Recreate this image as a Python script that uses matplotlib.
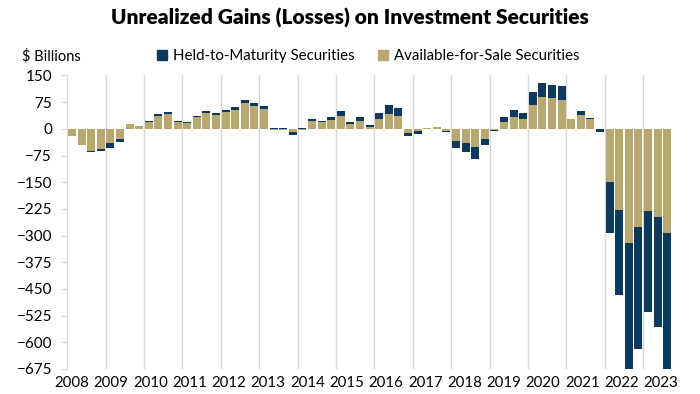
import matplotlib.pyplot as plt
import numpy as np
from matplotlib.patches import Patch

plt.rcParams['font.family'] = ['Lato', 'DejaVu Sans']

years = list(range(2008, 2024))

# $ billions, quarterly 2008 Q1 .. 2023 Q3
afs = [-19, -45, -62, -56,
       -40, -29, 13, 7,
       18, 36, 42, 18,
       17, 32, 44, 39,
       46, 53, 72, 64,
       56, -3, -3, -8,
       -3, 23, 18, 25,
       35, 14, 21, 6,
       27, 42, 36, -12,
       -7, 2, 5, -5,
       -34, -40, -51, -29,
       -2, 20, 32, 27,
       68, 90, 86, 82,
       28, 39, 29, -1,
       -150, -227, -320, -277,
       -232, -248, -292]

htm = [0, 0, -3, -7,
       -14, -8, 0, 2,
       4, 5, 6, 3,
       3, 5, 5, 6,
       6, 8, 8, 8,
       8, 3, 3, -10,
       2, 5, 4, 9,
       14, 5, 11, 4,
       17, 24, 22, -8,
       -7, 0, 1, -5,
       -21, -25, -33, -17,
       -3, 14, 20, 17,
       35, 38, 37, 37,
       1, 11, 2, -9,
       -142, -240, -370, -343,
       -284, -310, -392]

navy = '#0b3a5e'
tan = '#b8a76e'
grid_c = '#d9d9d9'

afs = np.array(afs)
htm = np.array(htm)
x = np.arange(len(afs)) + 0.5
htm_bottom = np.where(np.sign(htm) == np.sign(afs), afs, 0)

fig = plt.figure(figsize=(7, 3.94), dpi=100)
ax = fig.add_axes([0.096, 0.0635, 0.864, 0.745])

ax.bar(x, afs, width=0.83, color=tan, zorder=2)
ax.bar(x, htm, width=0.83, bottom=htm_bottom, color=navy, zorder=2)

ax.set_xlim(0, len(afs))
ax.set_ylim(-675, 150)
ax.set_yticks(np.arange(-675, 151, 75))
ax.tick_params(axis='y', labelsize=11, length=4, color=grid_c, pad=7)

for k in range(1, len(years)):
    ax.axvline(4 * k, color=grid_c, lw=1, zorder=0)
ax.set_xticks([0.5 + k * 4.09 for k in range(len(years))])
ax.set_xticklabels([str(y) for y in years])
ax.tick_params(axis='x', labelsize=10.8, length=0, pad=5)

for s in ['top', 'right', 'bottom']:
    ax.spines[s].set_visible(False)
ax.spines['left'].set_color(grid_c)

fig.text(0.5, 0.955, 'Unrealized Gains (Losses) on Investment Securities',
         ha='center', va='center', fontsize=15, fontweight='heavy')
fig.text(0.032, 0.857, '$ Billions', ha='left', va='center', fontsize=10.5)
handles = [Patch(color=navy), Patch(color=tan)]
fig.legend(handles, ['Held-to-Maturity Securities', 'Available-for-Sale Securities'],
           loc='center', bbox_to_anchor=(0.526, 0.857), ncol=2, frameon=False,
           fontsize=10.8, handlelength=0.7, handleheight=0.7, handletextpad=0.4,
           columnspacing=1.5)

fig.savefig('out.png', dpi=100)
